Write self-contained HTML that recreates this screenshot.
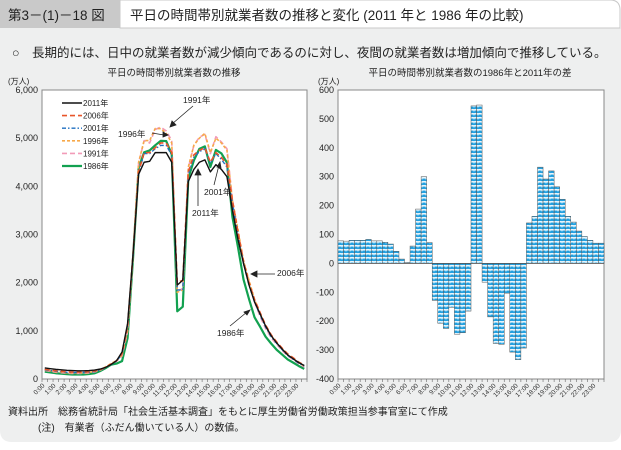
<!DOCTYPE html>
<html><head><meta charset="utf-8">
<style>
body{margin:0;width:621px;height:445px;overflow:hidden;background:#fff;font-family:"Liberation Sans","Noto Sans CJK JP",sans-serif;}
svg text{font-family:"Liberation Sans","Noto Sans CJK JP",sans-serif;}
</style></head><body>
<svg id="chart" width="621" height="445" viewBox="0 0 621 445" xmlns="http://www.w3.org/2000/svg">
<defs>
<pattern id="pat" width="4" height="4" patternUnits="userSpaceOnUse">
<rect width="4" height="4" fill="#1f9fdf"/>
<path d="M0 2.5 Q1 0.5 2 2.5 Q3 0.5 4 2.5" stroke="#ffffff" stroke-width="1.2" fill="none"/>
</pattern>
</defs>
<path d="M0 28 H621 V430 Q621 442 609 442 H12 Q0 442 0 430 Z" fill="#eeefef"/>
<rect x="0" y="0" width="120" height="28" fill="#c9c9c9"/>
<path d="M120 0 H610 Q620 0 620 10 V28 H120 Z" fill="#fff" stroke="#c9c9c9"/>
<text x="8" y="20" font-size="13.5" fill="#222">第3－(1)－18 図</text>
<text x="130" y="20" font-size="13.5" fill="#222">平日の時間帯別就業者数の推移と変化 (2011 年と 1986 年の比較)</text>
<text x="12" y="57" font-size="12.5" fill="#222">○　長期的には、日中の就業者数が減少傾向であるのに対し、夜間の就業者数は増加傾向で推移している。</text>
<text x="174" y="76" font-size="9.5" text-anchor="middle" fill="#222">平日の時間帯別就業者数の推移</text>
<text x="470" y="76" font-size="9.5" text-anchor="middle" fill="#222">平日の時間帯別就業者数の1986年と2011年の差</text>
<text x="8" y="84" font-size="8" fill="#222">(万人)</text>
<text x="318" y="84" font-size="8" fill="#222">(万人)</text>
<rect x="42" y="90" width="265" height="289" fill="#fff" stroke="#888"/>
<rect x="338" y="90" width="266" height="289" fill="#fff" stroke="#888"/>
<g id="left"></g><g id="right"></g>
<g id="legend"></g>
<g font-size="8.5" fill="#222" stroke="none">
<text x="183" y="103">1991年</text>
<text x="118" y="137">1996年</text>
<text x="204" y="195">2001年</text>
<text x="192" y="216">2011年</text>
<text x="277" y="276">2006年</text>
<text x="217" y="336">1986年</text>
</g>
<g stroke="#222" stroke-width="0.8" fill="#222">
<line x1="193" y1="106" x2="172" y2="124"/><path d="M170 127 l2 -6 l4 4z"/>
<line x1="152" y1="133" x2="164" y2="135"/><path d="M168 135 l-5 -3 l0 5z"/>
<line x1="214" y1="185" x2="219" y2="165"/><path d="M220 162 l-3 5 l4 1z"/>
<line x1="198" y1="206" x2="198" y2="173"/><path d="M198 169 l-3 6 l6 0z"/>
<line x1="275" y1="274" x2="255" y2="274"/><path d="M251 274 l6 -3 l0 6z"/>
<line x1="230" y1="326" x2="247" y2="312"/><path d="M250 310 l-6 2 l3 3z"/>
</g>
<text x="8" y="415" font-size="10" fill="#222">資料出所　総務省統計局「社会生活基本調査」をもとに厚生労働省労働政策担当参事官室にて作成</text>
<text x="38" y="431" font-size="10" fill="#222">(注)　有業者（ふだん働いている人）の数値。</text>
</svg>
<script>
const hours = ["0:00","1:00","2:00","3:00","4:00","5:00","6:00","7:00","8:00","9:00","10:00","11:00","12:00","13:00","14:00","15:00","16:00","17:00","18:00","19:00","20:00","21:00","22:00","23:00"];
const leftTicks = [0,1000,2000,3000,4000,5000,6000];
const rightTicks = [-400,-300,-200,-100,0,100,200,300,400,500,600];
const years = ["2011年","2006年","2001年","1996年","1991年","1986年"];
const v2011 = [230,215,200,190,180,175,170,170,175,185,205,240,300,380,560,1150,2600,4250,4500,4520,4700,4700,4700,4500,1950,2050,4100,4350,4500,4550,4300,4450,4350,4200,3500,2900,2400,1950,1600,1350,1100,900,750,620,500,420,340,280];
const v2006 = [200,185,170,160,150,145,145,145,150,165,195,240,310,380,530,1100,2600,4300,4700,4700,4800,4900,4900,4700,2000,2050,4300,4650,4750,4800,4500,4700,4600,4450,3700,3050,2450,2000,1650,1380,1120,920,770,640,520,440,350,290];
const v2001 = [190,175,160,150,140,135,135,135,140,155,185,235,300,370,520,1080,2580,4280,4680,4680,4780,4850,4850,4650,1850,1850,4250,4600,4720,4780,4480,4680,4560,4400,3650,3000,2400,1950,1600,1330,1080,880,740,610,490,410,330,270];
const v1996 = [190,170,150,140,130,125,125,125,135,155,190,250,320,380,500,1000,2600,4500,4950,4950,5200,5200,5100,4900,1800,1850,4400,4850,5000,5100,4700,5000,4900,4750,3700,3100,2450,2050,1650,1350,1100,900,750,620,500,420,340,270];
const v1991 = [180,160,140,130,120,115,115,115,125,145,180,240,310,370,480,980,2580,4480,4950,4900,5180,5230,5150,4950,1820,1880,4380,4850,5020,5080,4680,5030,4920,4780,3720,3050,2400,2000,1600,1300,1050,860,720,590,480,400,320,250];
const v1986 = [152,138,120,110,100,92,92,92,102,118,163,225,297,320,372,850,2528,4378,4707,4745,4852,4945,4940,4665,1405,1502,4165,4535,4777,4830,4403,4757,4683,4493,3360,2737,2067,1658,1280,1085,878,737,607,508,407,340,270,210];
const diffs = [78,77,80,80,80,83,78,78,73,67,42,15,3,60,188,300,72,-128,-207,-225,-152,-245,-240,-165,545,548,-65,-185,-277,-280,-103,-307,-333,-293,140,163,333,292,320,265,222,163,143,112,93,80,70,70];

const NS="http://www.w3.org/2000/svg";
function mk(tag,attrs,parent){const e=document.createElementNS(NS,tag);for(const k in attrs)e.setAttribute(k,attrs[k]);parent.appendChild(e);return e;}
const L={x0:42,x1:307,y0:379,y1:90};
const R={x0:338,x1:604,y0:379,y1:90};
const N=48;
const lx=i=>L.x0+(i+0.5)*(L.x1-L.x0)/N;
const ly=v=>L.y0-(v/6000)*(L.y0-L.y1);
const rx=i=>R.x0+i*(R.x1-R.x0)/N;
const ry=v=>R.y0-((v+400)/1000)*(R.y0-R.y1);
const left=document.getElementById('left'), right=document.getElementById('right');

leftTicks.forEach(t=>{
  const tx=mk('text',{x:L.x0-4,y:ly(t)+3,'font-size':9,'text-anchor':'end',fill:'#222'},left);
  
  
  tx.textContent=t.toLocaleString('en-US');
});
rightTicks.forEach(t=>{
  const tx=mk('text',{x:R.x0-4,y:ry(t)+3,'font-size':9,'text-anchor':'end',fill:'#222'},right);
  
  
  tx.textContent=t;
});
function xLabels(x0,x1,g,nm){
  for(let i=0;i<=N;i++){const x=x0+i*(x1-x0)/N;mk('line',{x1:x,x2:x,y1:379,y2:382,stroke:'#666','stroke-width':0.6},g);}
  hours.forEach((h,i)=>{const x=x0+(i*2)*(x1-x0)/N+3;
    const tx=mk('text',{x:x,y:386,'font-size':6.5,'text-anchor':'end',fill:'#333',transform:`rotate(-45 ${x} 386)`},g);
    
    
    tx.textContent=h;});
}
xLabels(L.x0,L.x1,left,'left-x-tick-label');
xLabels(R.x0,R.x1,right,'right-x-tick-label');

const series=[
 {d:v1986,c:'#12a150',w:2.2,dash:''},
 {d:v1991,c:'#f29bb8',w:1.6,dash:'5,3'},
 {d:v1996,c:'#f7a94a',w:1.6,dash:'3,2'},
 {d:v2001,c:'#1f6fc0',w:1.4,dash:'4,2,1.5,2'},
 {d:v2006,c:'#e8552a',w:1.6,dash:'5,3'},
 {d:v2011,c:'#111',w:1.4,dash:''}
];
series.forEach((s,k)=>{
  const p=mk('polyline',{points:s.d.map((v,i)=>lx(i)+','+ly(v)).join(' '),fill:'none',stroke:s.c,'stroke-width':s.w,'stroke-dasharray':s.dash,'stroke-linejoin':'round'},left);
  
  
});
const leg=document.getElementById('legend');
const legStyles=[series[5],series[4],series[3],series[2],series[1],series[0]];
years.forEach((y,i)=>{
  const yy=103+i*12.6;
  const ln=mk('line',{x1:62,x2:82,y1:yy,y2:yy,stroke:legStyles[i].c,'stroke-width':legStyles[i].w,'stroke-dasharray':legStyles[i].dash},leg);
  
  
  const tx=mk('text',{x:83,y:yy+3,'font-size':8,fill:'#222'},leg);
  
  
  tx.textContent=y;
});

diffs.forEach((v,i)=>{
  const x=rx(i),w=(R.x1-R.x0)/N;
  const y=Math.min(ry(v),ry(0)),h=Math.abs(ry(v)-ry(0));
  const b=mk('rect',{x:x,y:y,width:w,height:h,fill:'url(#pat)',stroke:'#555','stroke-width':0.5},right);
  
  
});
const zl=mk('line',{x1:R.x0,x2:R.x1,y1:ry(0),y2:ry(0),stroke:'#555','stroke-width':0.8},right);


</script>
</body></html>
